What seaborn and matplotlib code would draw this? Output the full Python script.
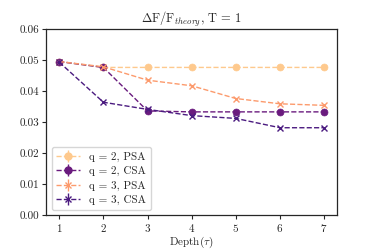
import numpy as np
import pandas as pd
import matplotlib
matplotlib.use("Agg")
import matplotlib.pyplot as plt
import seaborn as sns
from matplotlib.lines import Line2D

depth = [1, 2, 3, 4, 5, 6, 7]
q2_psa = [0.0495, 0.0476, 0.0476, 0.0476, 0.0476, 0.0476, 0.0476]
q2_csa = [0.0495, 0.0476, 0.0336, 0.0333, 0.0333, 0.0333, 0.0333]
q3_psa = [0.0495, 0.0478, 0.0435, 0.0417, 0.0376, 0.0359, 0.0354]
q3_csa = [0.0493, 0.0364, 0.0341, 0.0321, 0.0312, 0.0282, 0.0282]
labels = ["q = 2, PSA", "q = 2, CSA", "q = 3, PSA", "q = 3, CSA"]
series = [q2_psa, q2_csa, q3_psa, q3_csa]
colors = ["#fec98d", "#6a1b7e", "#fc9a6c", "#4b1b80"]
markers = ["o", "o", "x", "x"]

sns.set_theme(style="ticks")
plt.rcParams["font.family"] = ["cmr10"]
plt.rcParams["mathtext.fontset"] = "cm"
plt.rcParams["axes.formatter.use_mathtext"] = True

fig, ax = plt.subplots(figsize=(3.74, 2.49), dpi=100)
handles = []
for lab, ys, c, m in zip(labels, series, colors, markers):
    df = pd.DataFrame({"x": depth, "y": ys})
    sns.lineplot(data=df, x="x", y="y", ax=ax, color=c, marker=m, linestyle="--",
                 linewidth=1.0, markersize=5, markeredgecolor=c,
                 markeredgewidth=1.0 if m == "x" else 0.5, legend=False)
    h1 = Line2D([], [], color=c, linestyle="--", linewidth=1.0, marker=m, markersize=5,
                markeredgecolor=c, markeredgewidth=1.0)
    h2 = Line2D([], [], color=c, linestyle="none", marker="|", markersize=8, markeredgewidth=1.0)
    handles.append((h1, h2))

ax.set_ylim(0, 0.06)
ax.set_xlim(0.7, 7.3)
ax.set_yticks([0, 0.01, 0.02, 0.03, 0.04, 0.05, 0.06])
ax.set_yticklabels(["0.00", "0.01", "0.02", "0.03", "0.04", "0.05", "0.06"])
ax.set_xticks(depth)
ax.tick_params(labelsize=8, length=3, width=0.8, pad=2)
ax.set_xlabel(r"Depth($\tau$)", fontsize=8, labelpad=0)
ax.set_ylabel("")
ax.set_title(r"$\Delta$F/F$_{theory}$, T = 1", fontsize=9, pad=4)
for s in ax.spines.values():
    s.set_linewidth(0.9)
ax.legend(handles, labels, loc="lower left", fontsize=8, frameon=True,
          handlelength=2.2, borderpad=0.4, labelspacing=0.4)
fig.subplots_adjust(left=0.123, right=0.902, top=0.884, bottom=0.135)
fig.savefig("out.png", dpi=100)
